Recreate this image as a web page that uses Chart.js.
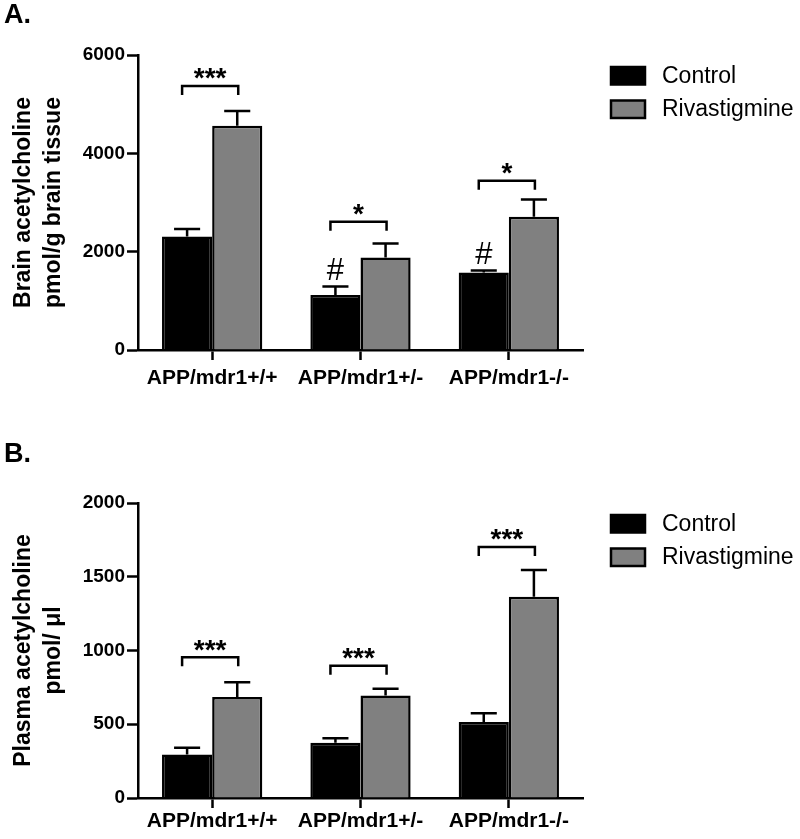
<!DOCTYPE html>
<html><head><meta charset="utf-8">
<script src="https://cdn.jsdelivr.net/npm/chart.js@4.4.1/dist/chart.umd.min.js"></script>
<style>
html,body{margin:0;padding:0;background:#fff;}
#wrap{position:relative;width:800px;height:839px;overflow:hidden;}
#ca{position:absolute;left:0;top:0;}
#cb{position:absolute;left:0;top:420px;}
</style></head><body>
<div id="wrap"><canvas id="ca" width="800" height="420"></canvas><canvas id="cb" width="800" height="419"></canvas></div>
<script>
// ---- data ----
const categories = ['APP/mdr1+/+', 'APP/mdr1+/-', 'APP/mdr1-/-'];
const seriesNames = ['Control', 'Rivastigmine'];

const brainControl = [2310, 1120, 1575];
const brainControlErr = [150, 170, 40];
const brainRiva = [4560, 1880, 2710];
const brainRivaErr = [300, 285, 350];
const brainBracket = [5370, 2610, 3440];
const brainSig = ['***', '*', '*'];
const brainHash = ['', '#', '#'];
const brainTicks = [0, 2000, 4000, 6000];

const plasmaControl = [295, 375, 515];
const plasmaControlErr = [45, 30, 60];
const plasmaRiva = [685, 695, 1365];
const plasmaRivaErr = [100, 45, 180];
const plasmaBracket = [955, 897, 1702];
const plasmaSig = ['***', '***', '***'];
const plasmaHash = ['', '', ''];
const plasmaTicks = [0, 500, 1000, 1500, 2000];

// ---- style ----
const FONT = "'Liberation Sans', Arial, Helvetica, sans-serif";
Chart.defaults.font.family = FONT;
Chart.defaults.color = '#000';
const COLORS = ['#000000', '#808080'];
const LW = 2.5;

function textCenterBaseline(ctx, txt, centerY) {
  const m = ctx.measureText(txt);
  return centerY + (m.actualBoundingBoxAscent - m.actualBoundingBoxDescent) / 2;
}

function annotPlugin(cfg) {
  return {
    id: 'annot' + cfg.letter,
    afterDatasetsDraw(chart) {
      const ctx = chart.ctx, y = chart.scales.y;
      const metas = [chart.getDatasetMeta(0), chart.getDatasetMeta(1)];
      ctx.save();
      ctx.strokeStyle = '#000'; ctx.lineWidth = LW; ctx.lineCap = 'butt'; ctx.lineJoin = 'miter';
      // error bars
      metas.forEach((meta, di) => {
        const vals = chart.data.datasets[di].data;
        meta.data.forEach((bar, i) => {
          const top = y.getPixelForValue(vals[i] + cfg.errors[di][i]);
          const half = bar.width * 0.26;
          ctx.beginPath();
          ctx.moveTo(bar.x, bar.y); ctx.lineTo(bar.x, top);
          ctx.moveTo(bar.x - half, top); ctx.lineTo(bar.x + half, top);
          ctx.stroke();
        });
      });
      // brackets + significance
      ctx.fillStyle = '#000';
      cfg.bracket.forEach((bv, i) => {
        const l = metas[0].data[i].x - 5, r = metas[1].data[i].x + 1;
        const yb = y.getPixelForValue(bv);
        ctx.beginPath();
        ctx.moveTo(l, yb + 9); ctx.lineTo(l, yb); ctx.lineTo(r, yb); ctx.lineTo(r, yb + 9);
        ctx.stroke();
        ctx.font = 'bold 28px ' + FONT;
        ctx.textAlign = 'center'; ctx.textBaseline = 'alphabetic';
        ctx.fillText(cfg.sig[i], (l + r) / 2, textCenterBaseline(ctx, cfg.sig[i], yb - 12));
      });
      // hash marks above control bars
      ctx.font = '31px ' + FONT;
      cfg.hash.forEach((h, i) => {
        if (!h) return;
        const bar = metas[0].data[i];
        const top = y.getPixelForValue(chart.data.datasets[0].data[i] + cfg.errors[0][i]);
        const m = ctx.measureText(h);
        ctx.fillText(h, bar.x, top - 7 - m.actualBoundingBoxDescent);
      });
      ctx.restore();
    },
    afterDraw(chart) {
      const ctx = chart.ctx, ca = chart.chartArea;
      ctx.save();
      // legend
      chart.data.datasets.forEach((ds, k) => {
        const by = ca.top + 12 + k * 33.5;
        ctx.fillStyle = ds.backgroundColor;
        ctx.fillRect(611, by, 34, 17.5);
        ctx.strokeStyle = '#000'; ctx.lineWidth = LW;
        ctx.strokeRect(611, by, 34, 17.5);
        ctx.fillStyle = '#000';
        ctx.font = '23px ' + FONT;
        ctx.textAlign = 'left'; ctx.textBaseline = 'middle';
        ctx.fillText(ds.label, 662, by + 9.5);
      });
      // panel letter
      ctx.font = 'bold 27px ' + FONT;
      ctx.textAlign = 'left'; ctx.textBaseline = 'alphabetic';
      ctx.fillStyle = '#000';
      ctx.fillText(cfg.letter + '.', 4, cfg.letterY);
      ctx.restore();
    }
  };
}

function makeChart(id, o) {
  return new Chart(document.getElementById(id), {
    type: 'bar',
    data: {
      labels: categories,
      datasets: [
        { label: seriesNames[0], data: o.control, backgroundColor: COLORS[0], borderColor: '#000', borderWidth: LW,
          categoryPercentage: 0.676, barPercentage: 1.0 },
        { label: seriesNames[1], data: o.riva, backgroundColor: COLORS[1], borderColor: '#000', borderWidth: LW,
          categoryPercentage: 0.676, barPercentage: 1.0 }
      ]
    },
    options: {
      responsive: false, animation: false, events: [],
      layout: { padding: { left: 0, right: 217, top: o.padTop, bottom: o.padBottom } },
      plugins: { legend: { display: false }, tooltip: { enabled: false }, title: { display: false } },
      scales: {
        x: {
          grid: { offset: false, drawOnChartArea: false, drawTicks: true, tickLength: 10, tickWidth: LW, tickColor: '#000' },
          border: { display: true, color: '#000', width: LW },
          ticks: { font: { size: 21, weight: 'bold' }, color: '#000', padding: o.xPad, maxRotation: 0, autoSkip: false },
          afterFit: s => { s.height = o.xHeight; }
        },
        y: {
          min: o.ticks[0], max: o.ticks[o.ticks.length - 1],
          afterBuildTicks: s => { s.ticks = o.ticks.map(v => ({ value: v })); },
          grid: { drawOnChartArea: false, drawTicks: true, tickLength: 11, tickWidth: LW, tickColor: '#000' },
          border: { display: true, color: '#000', width: LW },
          ticks: { font: { size: 19, weight: 'bold' }, color: '#000', padding: 2, callback: v => String(v) },
          title: { display: true, text: o.ytitle, color: '#000',
                   font: { size: 23, weight: 'bold', lineHeight: 1.33 }, padding: { top: 8, bottom: 0 } },
          afterFit: s => { s.width = 138; }
        }
      }
    },
    plugins: [annotPlugin(o.annot)]
  });
}

makeChart('ca', {
  control: brainControl, riva: brainRiva, ticks: brainTicks,
  padTop: 55, padBottom: 20, xHeight: 50, xPad: 6,
  ytitle: ['Brain acetylcholine', 'pmol/g brain tissue'],
  annot: { letter: 'A', letterY: 23, errors: [brainControlErr, brainRivaErr], bracket: brainBracket, sig: brainSig, hash: brainHash }
});
makeChart('cb', {
  control: plasmaControl, riva: plasmaRiva, ticks: plasmaTicks,
  padTop: 83, padBottom: 0, xHeight: 41, xPad: 1,
  ytitle: ['Plasma acetylcholine', 'pmol/ \u03bcl'],
  annot: { letter: 'B', letterY: 42, errors: [plasmaControlErr, plasmaRivaErr], bracket: plasmaBracket, sig: plasmaSig, hash: plasmaHash }
});
</script></body></html>
